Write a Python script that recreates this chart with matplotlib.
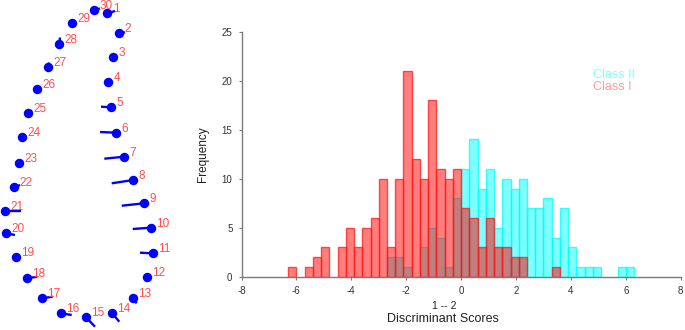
import numpy as np
import matplotlib
matplotlib.use("Agg")
import matplotlib.pyplot as plt

plt.rcParams['font.family'] = ['Liberation Sans', 'DejaVu Sans']

# ---------------- Data ----------------
# Left panel: landmark points (pixel-like layout coordinates) and displacement vector ends
point_ids = list(range(1, 31))
pt_x = [107.3, 119.3, 112.7, 108.3, 111.0, 116.0, 124.0, 133.3, 144.0, 150.7,
        152.7, 146.7, 132.7, 111.7, 86.0, 61.0, 41.7, 26.7, 16.0, 5.7,
        5.0, 14.0, 19.0, 22.3, 28.3, 37.3, 48.3, 59.3, 72.0, 94.3]
pt_y = [13.3, 33.3, 57.3, 82.0, 107.3, 132.7, 156.7, 180.0, 203.3, 227.7,
        253.3, 277.3, 298.3, 312.7, 317.3, 313.3, 298.3, 278.3, 256.7, 233.3,
        210.7, 187.3, 162.7, 137.3, 113.3, 89.3, 66.7, 44.3, 22.7, 10.0]
end_x = [115.0, 125.0, 113.5, 109.0, 101.0, 100.0, 104.3, 111.7, 121.7, 132.7,
         140.0, 146.0, 136.7, 119.3, 95.0, 71.7, 52.7, 37.3, 17.0, 15.0,
         20.7, 20.0, 21.0, 24.0, 32.0, 39.0, 49.0, 60.0, 74.0, 100.0]
end_y = [11.0, 32.3, 56.5, 81.5, 106.7, 132.0, 158.7, 183.3, 205.7, 229.0,
         252.7, 278.5, 303.3, 321.7, 326.7, 315.0, 296.7, 276.7, 258.0, 235.0,
         210.7, 185.0, 161.0, 135.5, 110.5, 86.0, 62.5, 37.5, 20.0, 8.5]

# Right panel: histogram counts (bin width 0.3)
bin_start = -6.3
bin_width = 0.3
class_I = [1, 0, 1, 2, 3, 0, 3, 5, 3, 5, 6, 10, 3, 10, 21, 12, 10, 18, 11, 10, 11,
           7, 6, 3, 6, 3, 3, 2, 2, 0, 0, 0, 1, 0, 0, 0, 0, 0, 0, 0, 0, 0]
class_II = [0, 0, 0, 0, 0, 0, 0, 0, 0, 0, 0, 0, 2, 2, 1, 0, 3, 5, 4, 1, 8,
            11, 14, 9, 11, 5, 10, 9, 10, 7, 7, 8, 4, 7, 3, 1, 1, 1, 0, 0, 1, 1]
x_ticks = [-8, -6, -4, -2, 0, 2, 4, 6, 8]
x_tick_labels = ['-8', '-6', '-4', '-2', '0', '2', '4', '6', '8']
y_ticks = [0, 5, 10, 15, 20, 25]
legend_labels = ['Class II', 'Class I']

# ---------------- Figure ----------------
fig = plt.figure(figsize=(6.85, 3.3), dpi=100)

# Left panel
axl = fig.add_axes([0, 0, 185 / 685, 1])
axl.set_xlim(0, 185)
axl.set_ylim(330, 0)
axl.axis('off')
for i, pid in enumerate(point_ids):
    axl.plot([pt_x[i], end_x[i]], [pt_y[i], end_y[i]], color='#0000ff', lw=1.7,
             solid_capstyle='butt', zorder=2)
    axl.plot(pt_x[i], pt_y[i], 'o', color='#0000ff', ms=5.8, mec='#0000ff', zorder=3)
    axl.text(pt_x[i] + 5.5, pt_y[i] - 4, str(pid), color='#ff4d4d', fontsize=8.5,
             ha='left', va='center', zorder=4)

# Right panel
ax = fig.add_axes([241.5 / 685, (330 - 276.7) / 330, 439.2 / 685, 245.0 / 330])
n_bins = len(class_I)
lefts = bin_start + bin_width * np.arange(n_bins)
cI = np.array(class_I)
cII = np.array(class_II)
mII = cII > 0
mI = cI > 0
ax.bar(lefts[mII], cII[mII], width=bin_width, align='edge',
       color=(0, 1, 1, 0.5), edgecolor=(0, 1, 1, 0.75), linewidth=1.0, zorder=2)
ax.bar(lefts[mI], cI[mI], width=bin_width, align='edge',
       color=(1, 0, 0, 0.5), edgecolor=(1, 0.1, 0.1, 0.75), linewidth=1.0, zorder=3)

ax.set_xlim(-8, 8)
ax.set_ylim(0, 25)
ax.set_xticks(x_ticks)
ax.set_xticklabels(x_tick_labels)
ax.set_yticks(y_ticks)
ax.set_yticklabels([str(v) for v in y_ticks])
for s in ['top', 'right']:
    ax.spines[s].set_visible(False)
for s in ['left', 'bottom']:
    ax.spines[s].set_color('#7a7a7a')
    ax.spines[s].set_linewidth(1.0)
    ax.spines[s].set_zorder(5)
ax.tick_params(axis='both', direction='out', length=2.5, width=0.8, color='#7a7a7a',
               labelsize=7, labelcolor='#333333', pad=4)
ax.set_ylabel('Frequency', fontsize=8.5, color='#222222', labelpad=9)

fig.text(444 / 685, 1 - 306 / 330, '1 -- 2', fontsize=7.5, color='#222222',
         ha='center', va='center')
fig.text(443 / 685, 1 - 318.5 / 330, 'Discriminant Scores', fontsize=9, color='#222222',
         ha='center', va='center')

fig.text(593 / 685, 1 - 75 / 330, legend_labels[0], fontsize=9, color='#80ffff',
         ha='left', va='center')
fig.text(593 / 685, 1 - 87 / 330, legend_labels[1], fontsize=9, color='#ff9a9a',
         ha='left', va='center')

fig.savefig('out.png', dpi=100)
